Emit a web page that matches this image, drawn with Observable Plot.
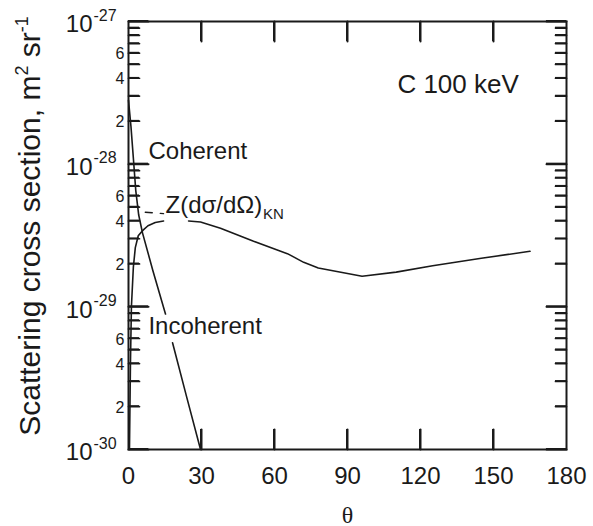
<!DOCTYPE html>
<html>
<head>
<meta charset="utf-8">
<script src="https://cdn.jsdelivr.net/npm/d3@7"></script>
<script src="https://cdn.jsdelivr.net/npm/@observablehq/plot@0.6"></script>
<style>
  html, body { margin: 0; padding: 0; background: #fff; }
</style>
</head>
<body>
<div id="chart"></div>
<script>
// ---- data ----
// Coherent scattering (falls steeply with angle); null = break in the drawn line
const coherentTheta = [0, 1, 2, 3, 4.2, 5.75, 10, 15.2, 16.6, 18.1, 24, 29.6];
const coherentValue = [2.8e-28, 1.85e-28, 1.1e-28, 6.5e-29, 4.4e-29, 3.3e-29, 1.8e-29, 8.9e-30, null, 5.6e-30, 2.3e-30, 1.0e-30];

// Incoherent scattering, merging into Z(dσ/dΩ)KN at larger angles
const incoherentTheta = [0.4, 0.8, 1.2, 2, 2.8, 4, 6, 8, 11, 14.4, 19, 24.7, 29.6, 37.8, 51.4, 65.3, 72, 78, 96, 110, 125, 145, 165];
const incoherentValue = [1.0e-30, 4.0e-30, 1.0e-29, 1.9e-29, 2.6e-29, 3.15e-29, 3.45e-29, 3.7e-29, 3.9e-29, 4.0e-29, null, 4.0e-29, 3.93e-29, 3.56e-29, 2.88e-29, 2.36e-29, 2.05e-29, 1.87e-29, 1.64e-29, 1.75e-29, 1.94e-29, 2.19e-29, 2.45e-29];

// Z(dσ/dΩ)KN dashed part at small angles
const knDashTheta = [6.9, 14.4];
const knDashValue = [4.6e-29, 4.5e-29];

// axes
const thetaTicks = [0, 30, 60, 90, 120, 150, 180];
const decadeExponents = [-30, -29, -28, -27];
const minorMantissas = [2, 3, 4, 5, 6, 7, 8, 9];
const labeledMantissas = [2, 4, 6];

// ---- derived tables ----
const coherent = coherentTheta.map((t, i) => ({theta: t, value: coherentValue[i]}));
const incoherent = incoherentTheta.map((t, i) => ({theta: t, value: incoherentValue[i]}));
const knDash = knDashTheta.map((t, i) => ({theta: t, value: knDashValue[i]}));
const decades = decadeExponents.map(e => Math.pow(10, e));
const minors = decadeExponents.slice(0, -1).flatMap(e => minorMantissas.map(m => m * Math.pow(10, e)));
const minorLabels = decadeExponents.slice(0, -1).flatMap(e => labeledMantissas.map(m => ({v: m * Math.pow(10, e), t: String(m)})));
const innerThetaTicks = thetaTicks.filter(t => t > 0 && t < 180);

// ---- layout ----
const W = 593, H = 526, ML = 128, MR = 27, MT = 21, MB = 77;
const innerW = W - ML - MR, innerH = H - MT - MB;
const ink = "#1a1a1a";
const MAJOR = 20, MINOR = 11;          // tick lengths in pixels
const xDomain = [0, 180], yDomain = [1e-30, 1e-27];

// tick lengths converted into scale units (pixels -> data)
const dThetaMajor = MAJOR * (xDomain[1] - xDomain[0]) / innerW;
const dThetaMinor = MINOR * (xDomain[1] - xDomain[0]) / innerW;
const decadesSpan = Math.log10(yDomain[1]) - Math.log10(yDomain[0]);
const yTopTickEnd = Math.pow(10, Math.log10(yDomain[1]) - MAJOR * decadesSpan / innerH);
const yBottomTickEnd = Math.pow(10, Math.log10(yDomain[0]) + MAJOR * decadesSpan / innerH);

// tick segments as two-point polylines (drawn like the curves, grouped by id)
let tickId = 0;
const seg = (x1, y1, x2, y2) => { tickId++; return [{id: tickId, theta: x1, value: y1}, {id: tickId, theta: x2, value: y2}]; };
const majorTickSegs = [
  ...decades.flatMap(v => seg(xDomain[0], v, xDomain[0] + dThetaMajor, v)),
  ...decades.flatMap(v => seg(xDomain[1] - dThetaMajor, v, xDomain[1], v)),
  ...innerThetaTicks.flatMap(t => seg(t, yTopTickEnd, t, yDomain[1])),
  ...innerThetaTicks.flatMap(t => seg(t, yDomain[0], t, yBottomTickEnd))
];
const minorTickSegs = [
  ...minors.flatMap(v => seg(xDomain[0], v, xDomain[0] + dThetaMinor, v)),
  ...minors.flatMap(v => seg(xDomain[1] - dThetaMinor, v, xDomain[1], v))
];

const chart = Plot.plot({
  width: W, height: H,
  marginLeft: ML, marginRight: MR, marginTop: MT, marginBottom: MB,
  style: {fontFamily: "'Liberation Sans', Arial, Helvetica, sans-serif", color: ink, background: "#fff"},
  x: {domain: xDomain},
  y: {type: "log", domain: yDomain, axis: null},
  marks: [
    Plot.frame({stroke: ink, strokeWidth: 2, fill: "none"}),
    // inward ticks on all four sides
    Plot.line(majorTickSegs, {x: "theta", y: "value", z: "id", stroke: ink, strokeWidth: 2}),
    Plot.line(minorTickSegs, {x: "theta", y: "value", z: "id", stroke: ink, strokeWidth: 1.7}),
    // x tick labels
    Plot.axisX({ticks: thetaTicks, tickSize: 0, tickPadding: 17, fontSize: 24, tickFormat: d => String(d), label: null}),
    // y tick labels
    Plot.text(minorLabels, {y: "v", text: "t", frameAnchor: "left", dx: -4, dy: 1, textAnchor: "end", fontSize: 16, fill: ink}),
    Plot.text(decades, {y: d => d, text: () => "10", frameAnchor: "left", dx: -36, dy: 3, textAnchor: "end", fontSize: 24, fill: ink}),
    Plot.text(decadeExponents, {y: e => Math.pow(10, e), text: e => String(e), frameAnchor: "left", dx: -35, dy: -6, textAnchor: "start", fontSize: 16, fill: ink}),
    // curves
    Plot.line(knDash, {x: "theta", y: "value", stroke: ink, strokeWidth: 1.4, strokeDasharray: "7,8"}),
    Plot.line(coherent, {x: "theta", y: "value", stroke: ink, strokeWidth: 1.6}),
    Plot.line(incoherent, {x: "theta", y: "value", stroke: ink, strokeWidth: 1.6}),
    // annotations
    Plot.text(["Coherent"], {x: () => 8.2, y: () => 1.08e-28, textAnchor: "start", lineAnchor: "bottom", fontSize: 24, fill: ink}),
    Plot.text(["Incoherent"], {x: () => 8.2, y: () => 6.4e-30, textAnchor: "start", lineAnchor: "bottom", fontSize: 24, fill: ink}),
    Plot.text(["Z(dσ/dΩ)"], {x: () => 15.2, y: () => 4.54e-29, textAnchor: "start", lineAnchor: "bottom", fontSize: 24, fill: ink}),
    Plot.text(["KN"], {x: () => 55.3, y: () => 4.1e-29, textAnchor: "start", lineAnchor: "bottom", fontSize: 15, fill: ink}),
    Plot.text(["C 100 keV"], {x: () => 110.5, y: () => 3.15e-28, textAnchor: "start", lineAnchor: "bottom", fontSize: 26, fill: ink}),
    // x title
    Plot.text(["θ"], {frameAnchor: "bottom", dy: 73, lineAnchor: "bottom", fontSize: 24, fontFamily: "'Liberation Serif', 'DejaVu Serif', serif", fill: ink})
  ]
});

const svg = d3.select(chart);

// safety net: the same tick segments also placed through the chart's own scales
const sx = chart.scale("x"), sy = chart.scale("y");
const tickLayer = svg.append("g").attr("stroke", ink).attr("fill", "none").attr("stroke-linecap", "butt");
d3.groups(majorTickSegs, d => d.id).forEach(([, pts]) => {
  tickLayer.append("path").attr("stroke-width", 2)
    .attr("d", `M${sx.apply(pts[0].theta)},${sy.apply(pts[0].value)}L${sx.apply(pts[1].theta)},${sy.apply(pts[1].value)}`);
});
d3.groups(minorTickSegs, d => d.id).forEach(([, pts]) => {
  tickLayer.append("path").attr("stroke-width", 1.7)
    .attr("d", `M${sx.apply(pts[0].theta)},${sy.apply(pts[0].value)}L${sx.apply(pts[1].theta)},${sy.apply(pts[1].value)}`);
});

// y-axis title with superscripts
const title = svg.append("text")
  .attr("transform", "translate(40,226) rotate(-90)")
  .attr("text-anchor", "middle")
  .attr("font-size", 30)
  .attr("fill", ink);
title.append("tspan").text("Scattering cross section, m");
title.append("tspan").attr("dy", -12).attr("font-size", 18).text("2");
title.append("tspan").attr("dy", 12).text(" sr");
title.append("tspan").attr("dy", -12).attr("font-size", 18).text("-1");

document.getElementById("chart").appendChild(chart);
</script>
</body>
</html>
